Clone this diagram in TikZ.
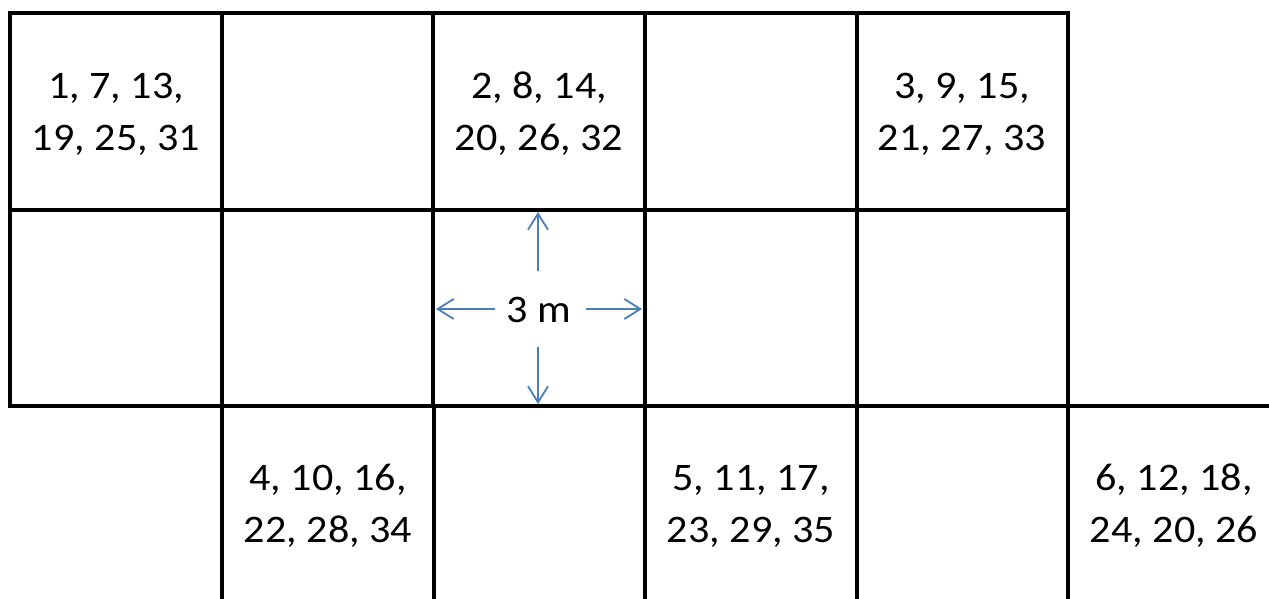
\documentclass[tikz,border=0pt]{standalone}
\usepackage{fontspec}
\setmainfont{Carlito}
\newfontfamily\cellfont[FakeStretch=1.08]{Carlito}
\usetikzlibrary{arrows.meta}
\definecolor{dimblue}{RGB}{74,126,187}
\begin{document}
\begin{tikzpicture}[x=1pt,y=-1pt,
  gridline/.style={line width=4pt, black, line cap=rect},
  celltext/.style={font=\cellfont\fontsize{39}{52}\selectfont, align=center, inner sep=0pt},
  dimarrow/.style={dimblue, line width=1.8pt, -{Straight Barb[length=16pt,width=20pt,line width=1.8pt]}}]
\useasboundingbox (0,0) rectangle (1269,599);
% grid
\draw[gridline] (10,13) -- (1068,13);
\draw[gridline] (10,210) -- (1068,210);
\draw[gridline] (10,406) -- (1290,406);
\foreach \x in {10,222,433,645,857,1068} \draw[gridline] (\x,13) -- (\x,406);
\foreach \x in {222,434,645,857,1068} \draw[gridline] (\x,406) -- (\x,620);
% cell texts
\node[celltext] (c1) at (116,114) {1, 7, 13,\\19, 25, 31};
\node[celltext] (c2) at (539,114) {2, 8, 14,\\20, 26, 32};
\node[celltext] (c3) at (962,114) {3, 9, 15,\\21, 27, 33};
\node[celltext] (c4) at (328,506) {4, 10, 16,\\22, 28, 34};
\node[celltext] (c5) at (751,506) {5, 11, 17,\\23, 29, 35};
\node[celltext] (c6) at (1174,506) {6, 12, 18,\\24, 20, 26};
% dimension
\node[celltext] (lbl) at (539,310) {3 m};
\coordinate (upS) at (538,271);
\coordinate (upE) at (538,212);
\coordinate (dnS) at (538,347);
\coordinate (dnE) at (538,404);
\coordinate (ltS) at (495,309);
\coordinate (ltE) at (436,309);
\coordinate (rtS) at (586,309);
\coordinate (rtE) at (642,309);
\draw[dimarrow] (upS) -- (upE);
\draw[dimarrow] (dnS) -- (dnE);
\draw[dimarrow] (ltS) -- (ltE);
\draw[dimarrow] (rtS) -- (rtE);
\end{tikzpicture}
\end{document}
